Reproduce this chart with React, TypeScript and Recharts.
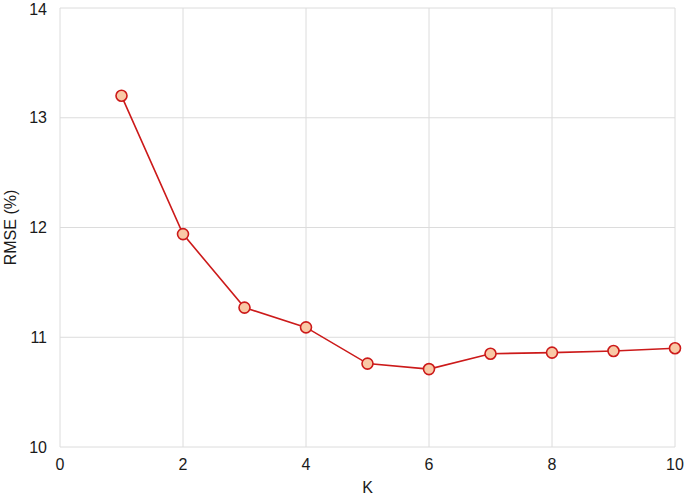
import { LineChart, Line, XAxis, YAxis, CartesianGrid, Label } from 'recharts'

const kValues = [1, 2, 3, 4, 5, 6, 7, 8, 9, 10]
const rmseValues = [13.2, 11.94, 11.27, 11.09, 10.76, 10.71, 10.85, 10.86, 10.875, 10.9]
const xTicks = [0, 2, 4, 6, 8, 10]
const yTicks = [10, 11, 12, 13, 14]

const data = kValues.map((k, i) => ({ k, rmse: rmseValues[i] }))

const font = 'Liberation Sans, Arial, sans-serif'
const tickStyle = { fill: '#1a1a1a', fontSize: 16, fontFamily: font }

export default function App() {
  return (
    <div style={{ position: 'absolute', left: 0, top: 0, background: '#fff' }}>
      <LineChart width={685} height={496} data={data} margin={{ top: 8, right: 10, left: 0, bottom: 0 }}>
        <CartesianGrid stroke="#dcdcdc" strokeWidth={1} />
        <XAxis
          dataKey="k"
          type="number"
          domain={[0, 10]}
          ticks={xTicks}
          tick={tickStyle}
          tickLine={false}
          axisLine={false}
          tickSize={0}
          tickMargin={12}
          height={49}
        >
          <Label value="K" position="insideBottom" offset={3} style={{ fill: '#1a1a1a', fontSize: 16, fontFamily: font }} />
        </XAxis>
        <YAxis
          type="number"
          domain={[10, 14]}
          ticks={yTicks}
          tick={tickStyle}
          tickLine={false}
          axisLine={false}
          tickSize={0}
          tickMargin={13}
          width={60}
        >
          <Label value="RMSE (%)" angle={-90} position="insideLeft" offset={10} style={{ fill: '#1a1a1a', fontSize: 16, fontFamily: font, textAnchor: 'middle' }} />
        </YAxis>
        <Line
          dataKey="rmse"
          stroke="#cc1a1a"
          strokeWidth={1.6}
          dot={{ r: 5.5, fill: '#f9c9a6', stroke: '#cc1a1a', strokeWidth: 1.6 }}
          isAnimationActive={false}
        />
      </LineChart>
    </div>
  )
}
